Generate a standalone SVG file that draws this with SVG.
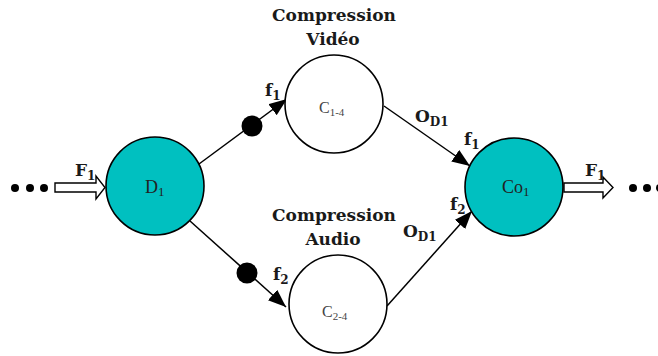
<svg xmlns="http://www.w3.org/2000/svg" width="658" height="356" viewBox="0 0 658 356">
<style>
.node{stroke:#000;stroke-width:1.6}
.teal{fill:#00C0C0}
.white{fill:#fff}
.lbl{font-family:"DejaVu Serif","Liberation Serif",serif;font-weight:bold;font-size:17px;fill:#1a1a1a}
.sub{font-size:12px}
.nl{font-family:"Liberation Serif","DejaVu Serif",serif;font-size:16px;fill:#444}
.big{font-size:18px;fill:#222}
.ns{font-size:11px}
.nsb{font-size:13px}
.conn{stroke:#000;stroke-width:1.5;fill:none}
.hollow{fill:#fff;stroke:#000;stroke-width:1.4}
.dot{fill:#000}
</style>
<defs>
<marker id="ah" markerUnits="userSpaceOnUse" markerWidth="20" markerHeight="16" refX="18" refY="7" orient="auto">
<path d="M0,0 L18,7 L0,14 z" fill="#000"/>
</marker>
</defs>
<g id="connectors">
<line class="conn" x1="199" y1="164" x2="287" y2="99" marker-end="url(#ah)"/>
<circle class="dot" cx="252" cy="126" r="10.5"/>
<line class="conn" x1="190" y1="221" x2="286" y2="307" marker-end="url(#ah)"/>
<circle class="dot" cx="247" cy="273" r="10.5"/>
<line class="conn" x1="384" y1="106" x2="470" y2="166" marker-end="url(#ah)"/>
<line class="conn" x1="387" y1="306" x2="472" y2="211" marker-end="url(#ah)"/>
<polygon class="hollow" points="55,183 96,183 96,176 105,187.5 96,199 96,192 55,192"/>
<polygon class="hollow" points="564,183 603,183 603,177 613,187.5 603,198 603,192 564,192"/>
<circle class="dot" cx="15" cy="188" r="4"/>
<circle class="dot" cx="30" cy="188" r="4"/>
<circle class="dot" cx="44" cy="188" r="4"/>
<circle class="dot" cx="633" cy="188" r="4"/>
<circle class="dot" cx="647" cy="188" r="4"/>
<circle class="dot" cx="660" cy="188" r="4"/>
<text class="lbl" x="75" y="176">F<tspan class="sub" dy="4">1</tspan></text>
<text class="lbl" x="585" y="176">F<tspan class="sub" dy="4">1</tspan></text>
<text class="lbl" x="265" y="96">f<tspan class="sub" dy="4">1</tspan></text>
<text class="lbl" x="273" y="280">f<tspan class="sub" dy="4">2</tspan></text>
<text class="lbl" x="415" y="122">O<tspan class="sub" dy="4">D1</tspan></text>
<text class="lbl" x="464" y="145">f<tspan class="sub" dy="4">1</tspan></text>
<text class="lbl" x="403" y="237">O<tspan class="sub" dy="4">D1</tspan></text>
<text class="lbl" x="450" y="210">f<tspan class="sub" dy="4">2</tspan></text>
</g>
<g id="D1">
<circle class="node teal" cx="155" cy="186" r="49"/>
<text class="nl big" x="145" y="193">D<tspan class="nsb" dy="3">1</tspan></text>
</g>
<g id="C1-4">
<circle class="node white" cx="334" cy="104" r="49"/>
<text class="nl" x="319" y="113">C<tspan class="ns" dy="3">1-4</tspan></text>
<text class="lbl" x="334" y="21" text-anchor="middle">Compression</text>
<text class="lbl" x="333" y="45" text-anchor="middle">Vidéo</text>
</g>
<g id="C2-4">
<circle class="node white" cx="338" cy="304" r="49"/>
<text class="nl" x="322" y="317">C<tspan class="ns" dy="3">2-4</tspan></text>
<text class="lbl" x="334" y="221" text-anchor="middle">Compression</text>
<text class="lbl" x="333" y="245" text-anchor="middle">Audio</text>
</g>
<g id="Co1">
<circle class="node teal" cx="514" cy="187" r="49"/>
<text class="nl big" x="502" y="193">Co<tspan class="nsb" dy="3">1</tspan></text>
</g>
</svg>
